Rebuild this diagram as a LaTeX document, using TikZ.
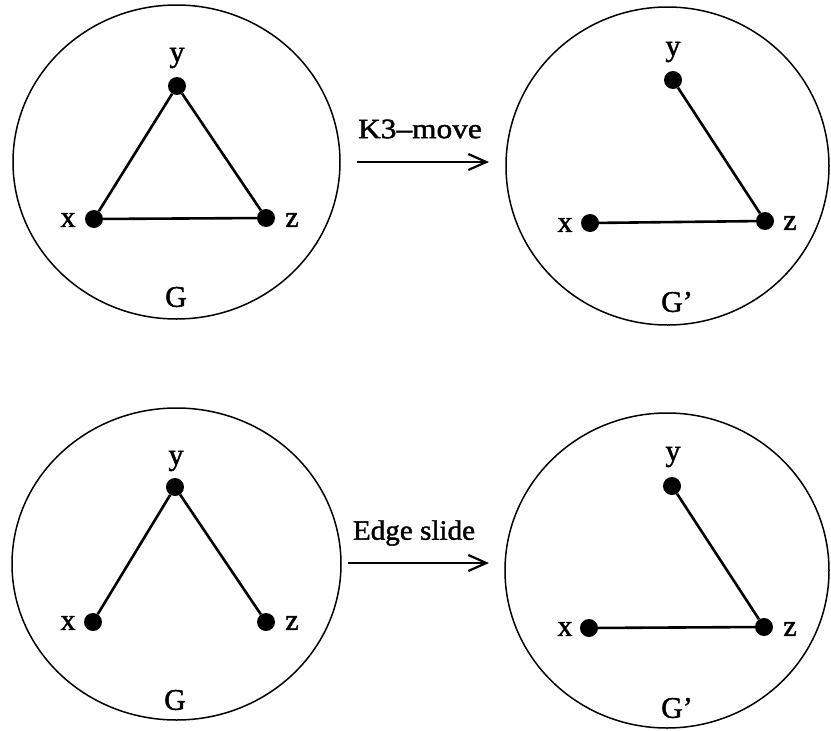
\documentclass[tikz,border=0pt]{standalone}
\usepackage{fontspec}
\setmainfont{Liberation Serif}
\newfontfamily\heavyserif{Liberation Serif}[FakeBold=1.5]
\usetikzlibrary{arrows.meta}
\tikzset{
  vtx/.style={circle,fill=black,draw=none,inner sep=0pt,minimum size=18pt},
  lbl/.style={inner sep=0pt,font=\heavyserif\fontsize{30}{34}\selectfont},
  gl/.style={inner sep=0pt,font=\heavyserif\fontsize{30}{34}\selectfont},
  edg/.style={line width=2.6pt},
  rim/.style={line width=1.5pt},
  mv/.style={line width=2.2pt,-{Straight Barb[length=18pt,width=16pt,line width=2.2pt]}},
  mvl/.style={inner sep=0pt,font=\heavyserif\fontsize{28}{32}\selectfont}
}
\begin{document}
\begin{tikzpicture}[x=1pt,y=-1pt]
\useasboundingbox (0,0) rectangle (831,731);
% circles
\draw[rim] (176.5,162) ellipse [x radius=163.5,y radius=157];
\draw[rim] (667.5,166) ellipse [x radius=161.5,y radius=159];
\draw[rim] (176.5,564) ellipse [x radius=164.5,y radius=156];
\draw[rim] (667,570.5) ellipse [x radius=162,y radius=157.5];
% top-left G
\node[vtx] (a1y) at (177,86) {};
\node[vtx] (a1x) at (94,219) {};
\node[vtx] (a1z) at (266,218) {};
\node[lbl] (a1ly) at (177,58) {y};
\node[lbl] (a1lx) at (68,220) {x};
\node[lbl] (a1lz) at (292,220) {z};
\node[gl] (a1g) at (176,297) {G};
\draw[edg] (a1x) -- (a1y) -- (a1z) -- (a1x);
% top-right G'
\node[vtx] (a2y) at (673,80) {};
\node[vtx] (a2x) at (590,223) {};
\node[vtx] (a2z) at (765,221) {};
\node[lbl] (a2ly) at (673,52) {y};
\node[lbl] (a2lx) at (565,225) {x};
\node[lbl] (a2lz) at (790,223) {z};
\node[gl] (a2g) at (677,302) {G’};
\draw[edg] (a2y) -- (a2z) -- (a2x);
% bottom-left G
\node[vtx] (b1y) at (175,487) {};
\node[vtx] (b1x) at (93,622) {};
\node[vtx] (b1z) at (266,622) {};
\node[lbl] (b1ly) at (176,461) {y};
\node[lbl] (b1lx) at (68,623) {x};
\node[lbl] (b1lz) at (292,623) {z};
\node[gl] (b1g) at (175,700) {G};
\draw[edg] (b1x) -- (b1y) -- (b1z);
% bottom-right G'
\node[vtx] (b2y) at (672,486) {};
\node[vtx] (b2x) at (589,628) {};
\node[vtx] (b2z) at (764,627) {};
\node[lbl] (b2ly) at (673,457) {y};
\node[lbl] (b2lx) at (565,629) {x};
\node[lbl] (b2lz) at (790,629) {z};
\node[gl] (b2g) at (677,708) {G’};
\draw[edg] (b2y) -- (b2z) -- (b2x);
% arrows
\coordinate (m1s) at (357,162);
\coordinate (m1e) at (489,162);
\draw[mv] (m1s) -- (m1e);
\node[mvl] (m1l) at (420,129) {\scalebox{1.12}[1]{K3–move}};
\coordinate (m2s) at (348,563);
\coordinate (m2e) at (489,563);
\draw[mv] (m2s) -- (m2e);
\node[mvl] (m2l) at (414,533) {\scalebox{1.04}[1]{Edge slide}};
\end{tikzpicture}
\end{document}
